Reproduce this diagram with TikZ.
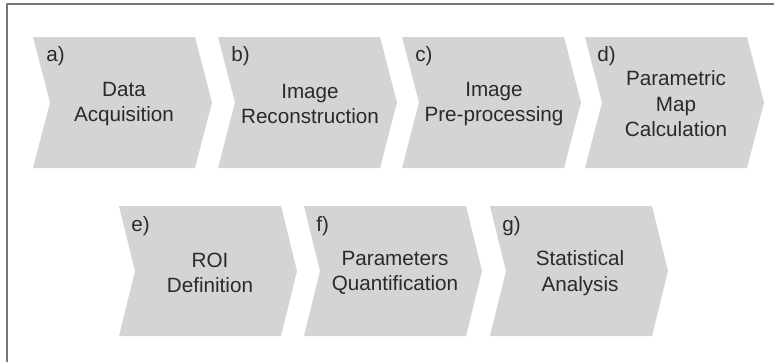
\documentclass[tikz,border=0pt]{standalone}
\usepackage{fontspec}
\setmainfont{Liberation Sans}
\usepackage{tikz}
\definecolor{stagegray}{RGB}{212,212,212}
\definecolor{inkgray}{RGB}{42,42,42}
\definecolor{framegray}{RGB}{118,118,118}

\begin{document}
\begin{tikzpicture}[line cap=round,line join=round,x=0.75pt,y=-0.75pt,
    stage/.style={fill=stagegray, draw=none},
    stagetext/.style={align=center, text=inkgray, inner sep=0pt, font=\fontsize{15.5}{19.1}\selectfont},
    stagelabel/.style={anchor=base west, text=inkgray, inner sep=0pt, font=\fontsize{15.5}{19.1}\selectfont}]
                    \useasboundingbox (0,0) rectangle (774,362);
                    \fill[white] (0,0) rectangle (774,362);

                    \draw [framegray, line width=1.5pt, line cap=butt] (7,362) -- (7,4) -- (774,4);

                    % first row
                    \fill [stage] (33,37) -- (195,37) -- (212,102.5) -- (195,168) -- (33,168) -- (50,102.5) -- cycle;
                    \fill [stage] (218,37) -- (380,37) -- (397,102.5) -- (380,168) -- (218,168) -- (235,102.5) -- cycle;
                    \fill [stage] (402,37) -- (564,37) -- (581,102.5) -- (564,168) -- (402,168) -- (419,102.5) -- cycle;
                    \fill [stage] (585,37) -- (747,37) -- (764,102.5) -- (747,168) -- (585,168) -- (602,102.5) -- cycle;

                    \node [stagelabel] (labA) at (46,61) {a)};
                    \node [stagelabel] (labB) at (231,61) {b)};
                    \node [stagelabel] (labC) at (415,61) {c)};
                    \node [stagelabel] (labD) at (597,61) {d)};

                    \node [stagetext] (txtA) at (124,104) {Data\\Acquisition};
                    \node [stagetext] (txtB) at (310,104) {Image\\Reconstruction};
                    \node [stagetext] (txtC) at (494,104) {Image\\Pre-processing};
                    \node [stagetext] (txtD) at (676,104) {Parametric\\Map\\Calculation};

                    % second row
                    \fill [stage] (119,206) -- (281,206) -- (297,271) -- (281,336) -- (119,336) -- (135,271) -- cycle;
                    \fill [stage] (304,206) -- (466,206) -- (482,271) -- (466,336) -- (304,336) -- (320,271) -- cycle;
                    \fill [stage] (490,206) -- (652,206) -- (668,271) -- (652,336) -- (490,336) -- (506,271) -- cycle;

                    \node [stagelabel] (labE) at (131,231) {e)};
                    \node [stagelabel] (labF) at (316,231) {f)};
                    \node [stagelabel] (labG) at (502,231) {g)};

                    \node [stagetext] (txtE) at (210,273) {ROI\\Definition};
                    \node [stagetext] (txtF) at (395,273) {Parameters\\Quantification};
                    \node [stagetext] (txtG) at (580,273) {Statistical\\Analysis};
                \end{tikzpicture}
\end{document}
